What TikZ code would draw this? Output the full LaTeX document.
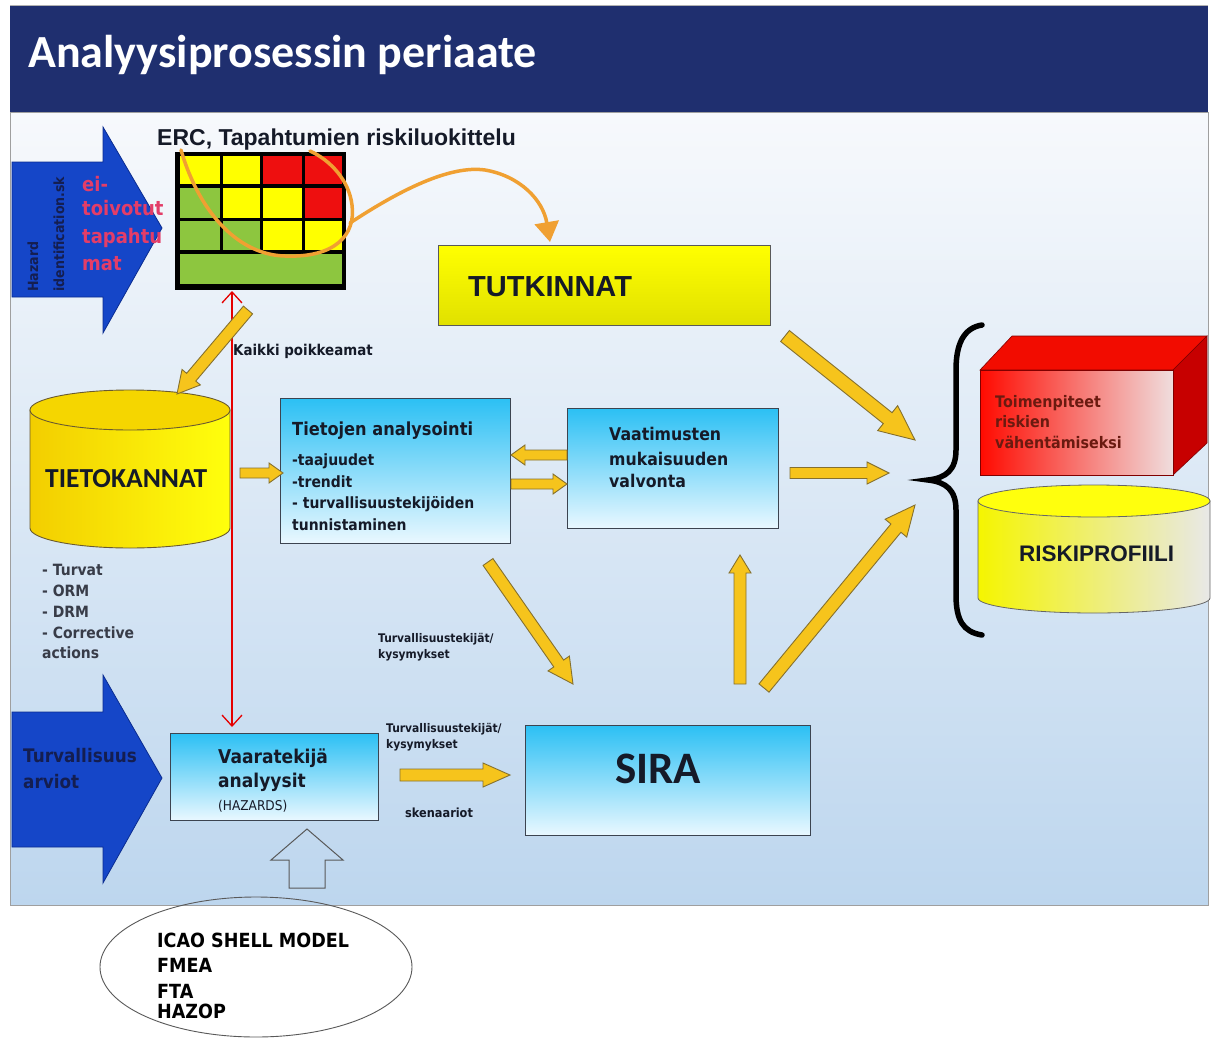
\documentclass[tikz,border=0pt]{standalone}
\usepackage{fontspec}
\setmainfont{Carlito}
\newfontfamily\arialf{Liberation Sans}
\newfontfamily\tah[FakeStretch=0.9]{DejaVu Sans}
\usetikzlibrary{calc,arrows.meta,shapes.geometric}

\definecolor{navy}{HTML}{1F2F6F}
\definecolor{panelTop}{HTML}{F7F9FC}
\definecolor{panelBot}{HTML}{BDD6EE}
\definecolor{skyTop}{HTML}{2CC0F4}
\definecolor{skyBot}{HTML}{EAF8FF}
\definecolor{gold}{HTML}{F6C41C}
\definecolor{goldEdge}{HTML}{85702E}
\definecolor{bigblue}{HTML}{1546C8}
\definecolor{bigblueEdge}{HTML}{0A2C90}
\definecolor{lasso}{HTML}{F0A032}
\definecolor{mred}{HTML}{EE0F0F}
\definecolor{myel}{HTML}{FFFF00}
\definecolor{mgreen}{HTML}{8DC63F}
\definecolor{pinkred}{HTML}{E33D68}
\definecolor{ink}{HTML}{151A28}
\definecolor{boxedge}{HTML}{3C4450}
\definecolor{hazblue}{HTML}{141E50}
\definecolor{cylEdge}{HTML}{6A5A30}
\definecolor{darkred}{HTML}{6A1A10}

% fat outlined arrow: tail, tip, shaft half width, head half width, head length
\newcommand\fatarrow[5]{%
  \coordinate (fah) at ($(#2)!#5!(#1)$);
  \filldraw[fatarr] ($(#1)!#3!90:(#2)$) -- ($(fah)!#3!-90:(#1)$) -- ($(fah)!#4!-90:(#1)$)
    -- (#2) -- ($(fah)!#4!90:(#1)$) -- ($(fah)!#3!90:(#1)$) -- ($(#1)!#3!-90:(#2)$) -- cycle;
}

\begin{document}
\begin{tikzpicture}[x=1pt,y=-1pt,
  txt/.style={inner sep=0, anchor=base west, text=ink},
  skybox/.style={draw=boxedge, line width=1.3pt, top color=skyTop, bottom color=skyBot,
    inner sep=0, anchor=north west},
  fatarr/.style={fill=gold, draw=goldEdge, line width=0.9pt, line join=miter},
  bigarrow/.style={fill=bigblue, draw=bigblueEdge, line width=0.8pt},
  boxfont/.style={font=\tah\bfseries\fontsize{18}{20}\selectfont},
  itemfont/.style={font=\tah\bfseries\fontsize{15.5}{18}\selectfont},
  smallfont/.style={font=\tah\bfseries\fontsize{11.9}{14}\selectfont},
  listfont/.style={font=\tah\bfseries\fontsize{15.5}{18}\selectfont, text=ink!85},
  barb/.tip={Straight Barb[length=11pt,width=20pt,line width=1.3pt]}]

\useasboundingbox (0,0) rectangle (1215,1041);
\fill[white] (0,0) rectangle (1215,1041);

% content panel and title bar
\draw[draw=gray!75, line width=1pt, top color=panelTop, bottom color=panelBot] (10,112) rectangle (1208,905);
\fill[navy] (10,5) rectangle (1208,112);
\draw[gray!60, line width=0.8pt] (10,5) -- (1208,5);
\node[txt, text=white, font=\bfseries\fontsize{46}{50}\selectfont] (title) at (28,67) {Analyysiprosessin periaate};

% input arrow: hazard identification
\filldraw[bigarrow] (12,162) -- (103,162) -- (103,127) -- (162,228) -- (103,333) -- (103,297) -- (12,297) -- cycle;
\node[txt, rotate=90, text=hazblue, font=\tah\bfseries\fontsize{14}{16}\selectfont] (hz1) at (38,292) {Hazard};
\node[txt, rotate=90, text=hazblue, font=\tah\bfseries\fontsize{14}{16}\selectfont] (hz2) at (64,292) {identification.sk};
\foreach \t/\y [count=\i] in {ei-/191, toivotut/215, tapahtu/243, mat/270}
  \node[txt, text=pinkred, font=\tah\bfseries\fontsize{20}{22}\selectfont] (ei\i) at (82,\y) {\t};

% ERC risk matrix
\node[txt, font=\arialf\bfseries\fontsize{23}{26}\selectfont] (erclabel) at (157,145) {ERC, Tapahtumien riskiluokittelu};
\node[fill=black, minimum width=171, minimum height=138, anchor=north west, inner sep=0] (erc) at (175,152) {};
\fill[myel]   (180,156) rectangle (220,184);
\fill[myel]   (223,156) rectangle (260,184);
\fill[mred]   (263,156) rectangle (302,184);
\fill[mred]   (305,156) rectangle (342,184);
\fill[mgreen] (180,188) rectangle (220,218);
\fill[myel]   (223,188) rectangle (260,218);
\fill[myel]   (263,188) rectangle (302,218);
\fill[mred]   (305,188) rectangle (342,218);
\fill[mgreen] (180,221) rectangle (220,250);
\fill[mgreen] (223,221) rectangle (260,250);
\fill[myel]   (263,221) rectangle (302,250);
\fill[myel]   (305,221) rectangle (342,250);
\fill[mgreen] (180,254) rectangle (342,284);

% investigations box
\node[draw=black!65, line width=1.2pt, top color=myel, bottom color=myel!88!black, minimum width=332,
  minimum height=80, anchor=north west, inner sep=0] (tut) at (438,245) {};
\node[txt, font=\arialf\bfseries\fontsize{29}{32}\selectfont] (tutl) at (468,296) {TUTKINNAT};

% lasso around the high-risk cells and its arrow to the investigations
\draw[lasso, line width=3.5pt, line cap=round] (181,150) .. controls (200,215) and (240,255) .. (285,256)
  .. controls (335,258) and (356,235) .. (352,205) .. controls (349,180) and (330,160) .. (310,151);
\coordinate (lassoStart) at (350,223);
\coordinate (lassoEnd) at ($(tut.north west)+(112,-3)$);
\draw[lasso, line width=3.5pt, line cap=round, -{Triangle[length=20pt,width=24pt]}] (lassoStart)
  .. controls (400,190) and (450,165) .. (485,170) .. controls (520,176) and (543,200) .. (lassoEnd);

% databases
\path[draw=cylEdge, line width=0.9pt, left color=orange!30!yellow!95!black, right color=myel!95!white]
  (30,410) -- (30,528) arc[start angle=180, end angle=360, x radius=100pt, y radius=20pt] -- (230,410) -- cycle;
\draw[cylEdge, line width=0.9pt, fill=orange!25!yellow!96!black] (130,410) ellipse[x radius=100pt, y radius=20pt];
\node[txt, font=\bfseries\fontsize{27.5}{30}\selectfont] (tk) at (45,487) {TIETOKANNAT};
\foreach \t/\y [count=\i] in {- Turvat/575, - ORM/596, - DRM/617, - Corrective/638, actions/658}
  \node[txt, listfont] (src\i) at (42,\y) {\t};

\node[txt, font=\tah\bfseries\fontsize{14.9}{16}\selectfont] (kaikki) at (233,355) {Kaikki poikkeamat};

% data analysis and compliance monitoring
\node[skybox, minimum width=230, minimum height=145] (tiet) at (280,398) {};
\node[txt, boxfont] (tiet0) at (292,435) {Tietojen analysointi};
\foreach \t/\y [count=\i] in {-taajuudet/465, -trendit/487, - turvallisuustekijöiden/508, tunnistaminen/530}
  \node[txt, itemfont] (tiet\i) at (292,\y) {\t};

\node[skybox, minimum width=211, minimum height=120] (vaat) at (567,408) {};
\foreach \t/\y [count=\i] in {Vaatimusten/440, mukaisuuden/465, valvonta/487}
  \node[txt, font=\tah\bfseries\fontsize{17.5}{20}\selectfont] (vaat\i) at (609,\y) {\t};

% hazard analyses and SIRA
\node[skybox, minimum width=208, minimum height=87] (vaara) at (170,733) {};
\node[txt, font=\tah\bfseries\fontsize{19}{21}\selectfont] (vaara1) at (218,763) {Vaaratekijä};
\node[txt, font=\tah\bfseries\fontsize{19}{21}\selectfont] (vaara2) at (218,787) {analyysit};
\node[txt, font=\tah\fontsize{13.5}{15}\selectfont] (vaara3) at (218,810) {(HAZARDS)};

\node[skybox, minimum width=285, minimum height=110] (sira) at (525,725) {};
\node[txt, font=\bfseries\fontsize{45}{48}\selectfont] (siral) at (615,783) {SIRA};

% input arrow: safety assessments
\filldraw[bigarrow] (12,712) -- (103,712) -- (103,675) -- (162,778) -- (103,883) -- (103,847) -- (12,847) -- cycle;
\node[txt, text=hazblue, font=\tah\bfseries\fontsize{18.7}{21}\selectfont] (tarv1) at (23,762) {Turvallisuus};
\node[txt, text=hazblue, font=\tah\bfseries\fontsize{18.7}{21}\selectfont] (tarv2) at (23,788) {arviot};

% flow labels
\node[txt, smallfont] (lab1) at (378,642) {Turvallisuustekijät/};
\node[txt, smallfont] (lab2) at (378,658) {kysymykset};
\node[txt, smallfont] (lab3) at (386,732) {Turvallisuustekijät/};
\node[txt, smallfont] (lab4) at (386,748) {kysymykset};
\node[txt, font=\tah\bfseries\fontsize{12.6}{14}\selectfont] (lab5) at (405,817) {skenaariot};

% link between the matrix and the hazard analyses
\coordinate (rTop) at (232,291);
\coordinate (rBot) at ($(vaara.north west)+(62,-6)$);
\draw[red!90!black, line width=1.3pt, barb-barb] (rTop) -- (rBot);

% outcomes
\node[inner sep=0] (brace) at (928,480) {};
\draw[line width=5.5pt, line cap=round] (982,325) .. controls (963,328) and (956,345) .. (956,370) -- (956,450)
  .. controls (956,470) and (946,478) .. (brace.center) .. controls (946,482) and (956,490) .. (956,510)
  -- (956,595) .. controls (956,620) and (963,632) .. (982,635);

\fill[draw=red!50!black, line width=0.6pt, fill=red!90!orange!95!black] (980,370) -- (1012,336) -- (1207,336) -- (1173,370) -- cycle;
\fill[draw=red!50!black, line width=0.6pt, fill=red!78!black] (1173,370) -- (1207,336) -- (1207,443) -- (1173,475) -- cycle;
\path[draw=red!50!black, line width=0.6pt, left color=red!92!orange, middle color=red!45!white!90!gray, right color=red!8!white!88!gray]
  (980,370) rectangle (1173,475);
\foreach \t/\y [count=\i] in {Toimenpiteet/407, riskien/427, vähentämiseksi/448}
  \node[txt, text=darkred, font=\tah\bfseries\fontsize{15.9}{18}\selectfont] (toim\i) at (995,\y) {\t};

\path[draw=black!60, line width=0.8pt, left color=myel!96!black, right color=gray!18]
  (978,501) -- (978,598) arc[start angle=180, end angle=360, x radius=116pt, y radius=15pt] -- (1210,501) -- cycle;
\draw[black!60, line width=0.8pt, fill=myel!95!white] (1094,501) ellipse[x radius=116pt, y radius=16pt];
\node[txt, font=\arialf\bfseries\fontsize{22.5}{25}\selectfont] (riski) at (1019,561) {RISKIPROFIILI};

% tool set feeding the hazard analyses
\node[draw=black!65, line width=0.9pt, ellipse, minimum width=312, minimum height=140, inner sep=0] (tools) at (256,967) {};
\foreach \t/\y [count=\i] in {ICAO SHELL MODEL/947, FMEA/972, FTA/998, HAZOP/1018}
  \node[txt, text=black, font=\tah\bfseries\fontsize{19.5}{22}\selectfont] (tool\i) at (157,\y) {\t};
\draw[black!65, line width=1pt, line join=miter] (307,829) -- (343,860) -- (325,860) -- (325,888) -- (289,888)
  -- (289,860) -- (271,860) -- cycle;

% flow arrows
\coordinate (a1s) at (248,310);  \coordinate (a1e) at (177,394);
\coordinate (a2s) at (240,473);  \coordinate (a2e) at (283,473);
\coordinate (a3s) at (567,455);  \coordinate (a3e) at (511,455);
\coordinate (a4s) at (511,484);  \coordinate (a4e) at (567,484);
\coordinate (a5s) at (790,473);  \coordinate (a5e) at (889,473);
\coordinate (a6s) at (785,336);  \coordinate (a6e) at (915,440);
\coordinate (a7s) at (764,688);  \coordinate (a7e) at (915,505);
\coordinate (a8s) at (740,684);  \coordinate (a8e) at (740,555);
\coordinate (a9s) at (488,562);  \coordinate (a9e) at (573,684);
\coordinate (a10s) at (400,775); \coordinate (a10e) at (510,775);
\fatarrow{a1s}{a1e}{6pt}{12pt}{22pt}
\fatarrow{a2s}{a2e}{5pt}{10pt}{14pt}
\fatarrow{a3s}{a3e}{5pt}{10pt}{14pt}
\fatarrow{a4s}{a4e}{5pt}{10pt}{14pt}
\fatarrow{a5s}{a5e}{5.5pt}{11pt}{22pt}
\fatarrow{a6s}{a6e}{7pt}{16pt}{35pt}
\fatarrow{a7s}{a7e}{6.5pt}{14pt}{30pt}
\fatarrow{a8s}{a8e}{6pt}{11pt}{18pt}
\fatarrow{a9s}{a9e}{6pt}{13pt}{25pt}
\fatarrow{a10s}{a10e}{6pt}{12pt}{27pt}

\end{tikzpicture}
\end{document}
